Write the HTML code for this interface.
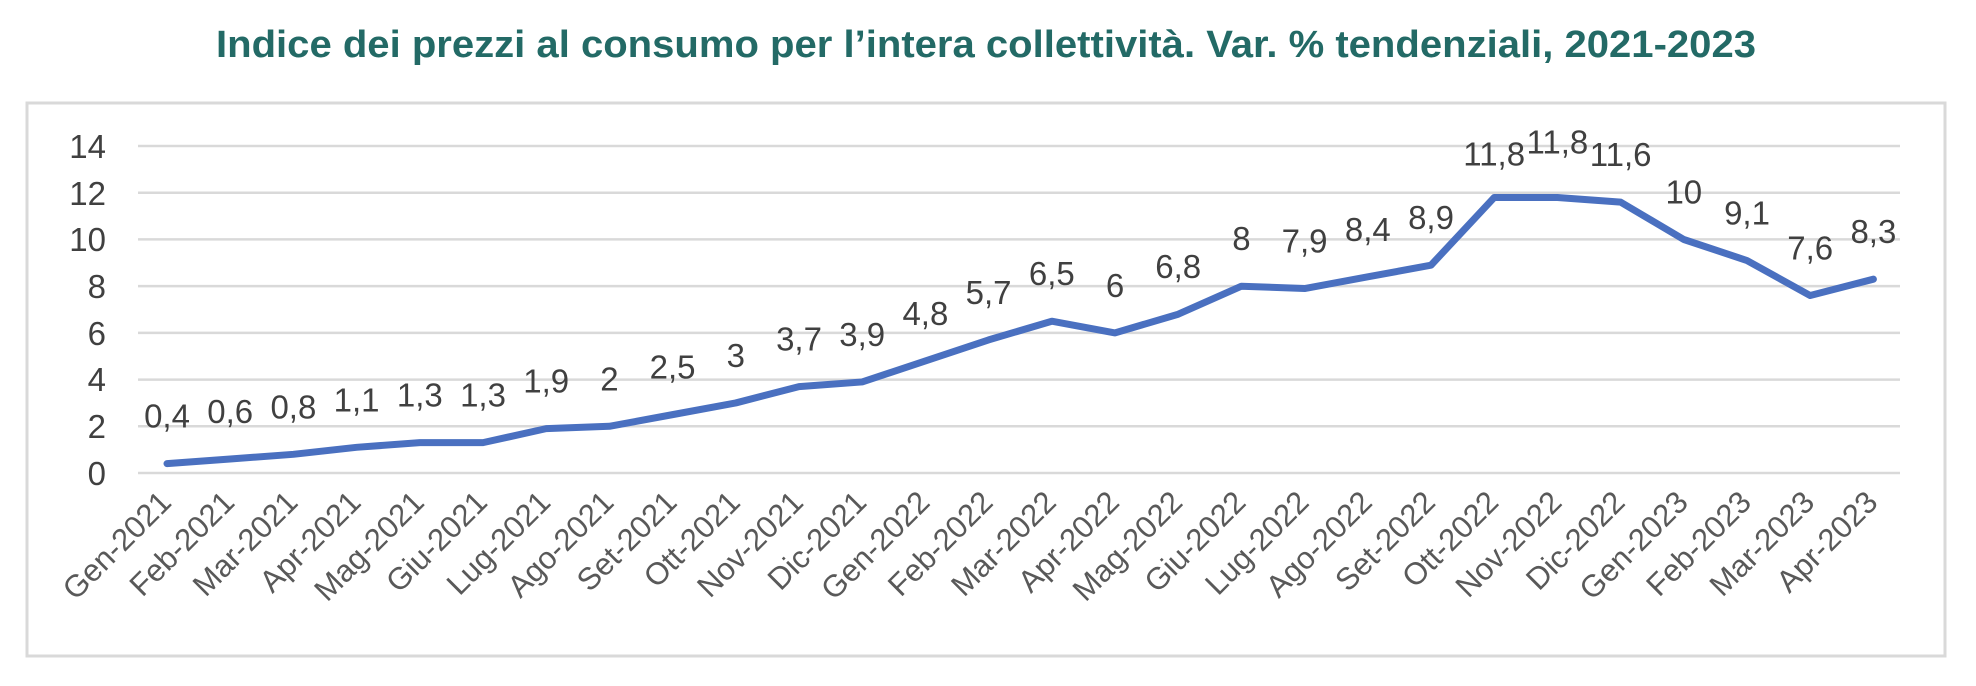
<!DOCTYPE html>
<html><head><meta charset="utf-8"><style>
html,body{margin:0;padding:0;background:#fff;}
svg{display:block;font-family:"Liberation Sans",Arial,sans-serif;}
</style></head><body>
<svg width="1976" height="686" viewBox="0 0 1976 686" xmlns="http://www.w3.org/2000/svg">
<text x="986" y="57" text-anchor="middle" font-size="38" font-weight="bold" fill="#236a66" textLength="1540" lengthAdjust="spacingAndGlyphs">Indice dei prezzi al consumo per l’intera collettività. Var. % tendenziali, 2021-2023</text>
<rect x="27" y="103" width="1918" height="553" fill="none" stroke="#d9d9d9" stroke-width="3"/>
<g stroke="#d9d9d9" stroke-width="2.5">
<line x1="138" x2="1900" y1="146" y2="146"/><line x1="138" x2="1900" y1="192.7" y2="192.7"/>
<line x1="138" x2="1900" y1="239.4" y2="239.4"/><line x1="138" x2="1900" y1="286.1" y2="286.1"/>
<line x1="138" x2="1900" y1="332.9" y2="332.9"/><line x1="138" x2="1900" y1="379.6" y2="379.6"/>
<line x1="138" x2="1900" y1="426.3" y2="426.3"/><line x1="138" x2="1900" y1="473" y2="473"/>
</g>
<g font-size="33" fill="#404040" text-anchor="end">
<text x="106" y="158">14</text><text x="106" y="205">12</text><text x="106" y="251">10</text><text x="106" y="298">8</text>
<text x="106" y="345">6</text><text x="106" y="391">4</text><text x="106" y="438">2</text><text x="106" y="485">0</text>
</g>
<polyline fill="none" stroke="#4a70c0" stroke-width="7" stroke-linejoin="round" stroke-linecap="round" id="ln" points=""/>
<g id="dl" font-size="33" fill="#404040" text-anchor="middle"></g>
<g id="xl" font-size="31" fill="#595959" text-anchor="end"></g>
</svg>
<script>
var v=[0.4,0.6,0.8,1.1,1.3,1.3,1.9,2,2.5,3,3.7,3.9,4.8,5.7,6.5,6,6.8,8,7.9,8.4,8.9,11.8,11.8,11.6,10,9.1,7.6,8.3];
var m=["Gen","Feb","Mar","Apr","Mag","Giu","Lug","Ago","Set","Ott","Nov","Dic"];
var pts=[],dl="",xl="";
for(var i=0;i<28;i++){var x=167+i*63.2,y=473-v[i]*23.35;pts.push(x+","+y);
var s=String(v[i]).replace(".",",");
var ly=y-36; if(i==22)ly=y-44; if(i==21)ly=y-32;
dl+='<text x="'+x+'" y="'+ly+'">'+s+'</text>';
var yr=2021+Math.floor(i/12);
xl+='<text transform="translate('+(x+6)+',504) rotate(-45)">'+m[i%12]+'-'+yr+'</text>';}
document.getElementById("ln").setAttribute("points",pts.join(" "));
document.getElementById("dl").innerHTML=dl;
document.getElementById("xl").innerHTML=xl;
</script>
</body></html>
